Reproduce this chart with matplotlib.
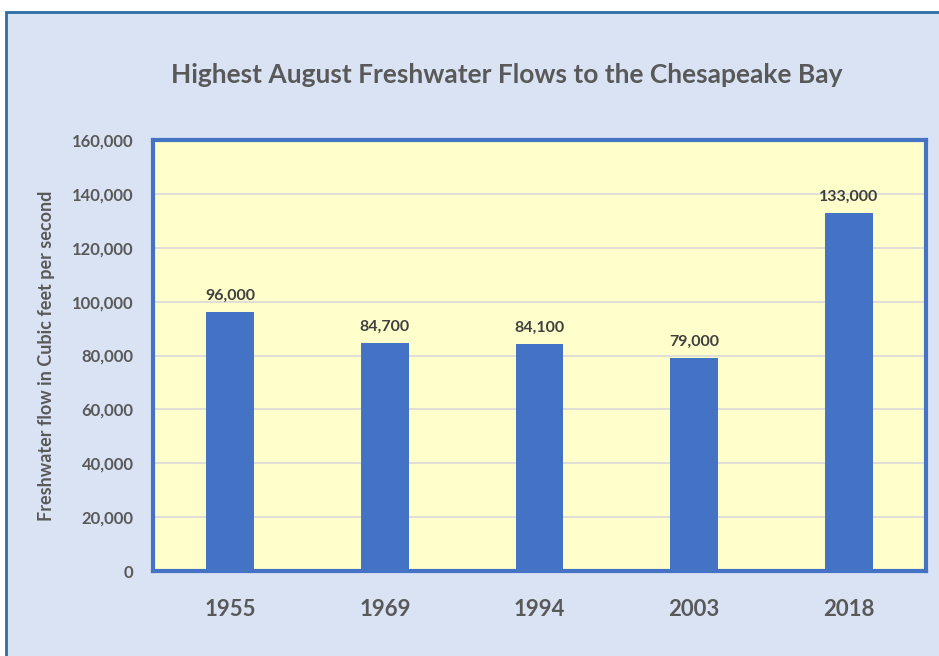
import matplotlib.pyplot as plt
from matplotlib.patches import Rectangle
from matplotlib.ticker import FuncFormatter

years = ["1955", "1969", "1994", "2003", "2018"]
flows = [96000, 84700, 84100, 79000, 133000]
y_ticks = [0, 20000, 40000, 60000, 80000, 100000, 120000, 140000, 160000]

W, H = 939, 656
fig = plt.figure(figsize=(W / 100, H / 100), dpi=100)
fig.patch.set_facecolor("white")

# outer panel with dark blue border
panel = Rectangle((6 / W, -0.05), 1.0, 1 - 12 / H + 0.05, transform=fig.transFigure,
                  facecolor="#dae3f3", edgecolor="#2e6da4", linewidth=2, zorder=-10)
fig.add_artist(panel)

gray = "#595959"
font = "Lato"

ax = fig.add_axes([153 / W, 1 - 571 / H, (926 - 153) / W, (571 - 140) / H])
ax.set_zorder(5)
ax.set_facecolor("#ffffcc")
x = range(len(years))
ax.bar(x, flows, width=0.31, color="#4472c4", zorder=3)
for i, v in zip(x, flows):
    ax.text(i, v + 3500, f"{v:,}", ha="center", va="bottom", fontsize=11.5,
            fontweight="bold", color="#404040", family=font, zorder=4)

ax.set_xlim(-0.5, 4.5)
ax.set_ylim(0, 160000)
ax.set_yticks(y_ticks)
ax.yaxis.set_major_formatter(FuncFormatter(lambda v, p: f"{int(v):,}"))
ax.grid(axis="y", color="#d9d9d9", linewidth=1.2, zorder=1)
ax.set_xticks(list(x))
ax.set_xticklabels(years)
ax.tick_params(axis="x", length=0, pad=20, labelsize=16, labelcolor=gray)
ax.tick_params(axis="y", length=0, pad=14, labelsize=12, labelcolor=gray)
for lbl in ax.get_xticklabels():
    lbl.set_fontweight("bold")
    lbl.set_family(font)
for lbl in ax.get_yticklabels():
    lbl.set_fontweight("bold")
    lbl.set_family(font)
for s in ax.spines.values():
    s.set_color("#4472c4")
    s.set_linewidth(3)

ax.set_ylabel("Freshwater flow in Cubic feet per second", fontsize=13,
              fontweight="bold", color=gray, family=font)
ax.yaxis.set_label_coords(-98 / (926 - 153), 0.5)

fig.text(507 / W, 1 - 75 / H, "Highest August Freshwater Flows to the Chesapeake Bay",
         ha="center", va="center", fontsize=19, fontweight="bold", color=gray, family=font)

fig.savefig("out.png", dpi=100)
